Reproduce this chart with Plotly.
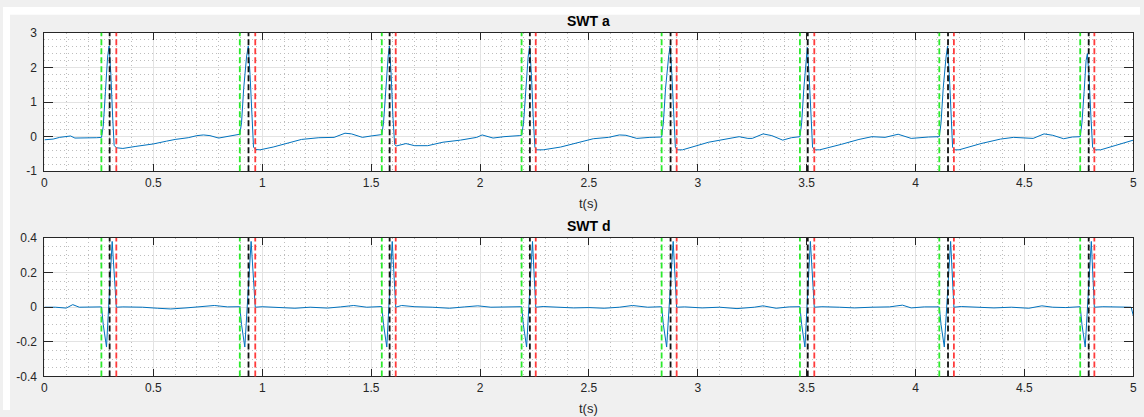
import plotly.graph_objects as go

# ---------------- data ----------------
t_a = [0.00, 0.04, 0.07, 0.10, 0.12, 0.14, 0.18, 0.21, 0.24, 0.262,
       0.270, 0.280, 0.290, 0.297, 0.305, 0.313, 0.320, 0.33, 0.36, 0.42,
       0.50, 0.56, 0.60, 0.66, 0.70, 0.73, 0.76, 0.80, 0.84, 0.875,
       0.897, 0.905, 0.915, 0.928, 0.936, 0.944, 0.952, 0.960, 0.97, 0.99,
       1.05, 1.10, 1.18, 1.26, 1.33, 1.38, 1.41, 1.44, 1.46, 1.50,
       1.549, 1.557, 1.567, 1.578, 1.584, 1.592, 1.600, 1.608, 1.615, 1.64,
       1.66, 1.70, 1.76, 1.83, 1.91, 1.985, 2.01, 2.06, 2.11, 2.18,
       2.191, 2.200, 2.210, 2.221, 2.228, 2.236, 2.244, 2.252, 2.26, 2.29,
       2.37, 2.44, 2.52, 2.59, 2.64, 2.67, 2.72, 2.78, 2.834, 2.842,
       2.852, 2.866, 2.873, 2.881, 2.889, 2.897, 2.905, 2.93, 3.05, 3.13,
       3.19, 3.23, 3.25, 3.30, 3.34, 3.39, 3.43, 3.469, 3.477, 3.487,
       3.497, 3.503, 3.511, 3.519, 3.527, 3.535, 3.56, 3.66, 3.74, 3.80,
       3.86, 3.92, 3.98, 4.06, 4.109, 4.117, 4.127, 4.140, 4.147, 4.155,
       4.163, 4.170, 4.178, 4.20, 4.30, 4.39, 4.45, 4.51, 4.54, 4.59,
       4.63, 4.68, 4.72, 4.756, 4.764, 4.774, 4.783, 4.789, 4.797, 4.805,
       4.813, 4.821, 4.85, 4.92, 5.00]
v_a = [-0.09, -0.07, -0.02, 0.00, 0.02, -0.04, -0.04, -0.05, -0.03, -0.02,
       0.30, 1.30, 2.30, 2.62, 1.80, 0.60, -0.25, -0.32, -0.34, -0.28,
       -0.21, -0.13, -0.08, -0.03, 0.03, 0.05, 0.03, -0.04, 0.00, 0.05,
       0.07, 0.40, 1.40, 2.30, 2.62, 1.80, 0.60, -0.30, -0.37, -0.38,
       -0.30, -0.22, -0.08, -0.03, -0.02, 0.10, 0.08, 0.02, -0.02, 0.02,
       0.06, 0.40, 1.40, 2.30, 2.62, 1.80, 0.60, -0.22, -0.27, -0.22,
       -0.20, -0.26, -0.26, -0.16, -0.10, -0.02, 0.05, -0.04, 0.00, 0.03,
       0.04, 0.40, 1.40, 2.30, 2.62, 1.80, 0.60, -0.30, -0.38, -0.38,
       -0.30, -0.18, -0.06, -0.02, 0.05, 0.04, -0.05, -0.02, -0.01, 0.40,
       1.40, 2.30, 2.62, 1.80, 0.60, -0.30, -0.38, -0.38, -0.16, -0.07,
       0.00, -0.05, -0.05, 0.08, 0.03, -0.10, -0.03, 0.00, 0.40, 1.40,
       2.30, 2.58, 1.80, 0.60, -0.30, -0.38, -0.38, -0.22, -0.08, 0.00,
       -0.02, 0.07, -0.05, -0.01, 0.00, 0.40, 1.40, 2.30, 2.62, 1.80,
       0.60, -0.30, -0.38, -0.38, -0.20, -0.07, -0.02, -0.03, -0.05, 0.08,
       0.04, -0.06, -0.01, 0.00, 0.40, 1.30, 2.20, 2.40, 1.70, 0.60,
       -0.30, -0.38, -0.38, -0.25, -0.10]

t_d = [0.00, 0.05, 0.10, 0.13, 0.16, 0.22, 0.262,
       0.270, 0.285, 0.311, 0.330,
       0.36, 0.45, 0.52, 0.58, 0.65, 0.72, 0.78, 0.84, 0.897,
       0.905, 0.920, 0.949, 0.968,
       1.00, 1.08, 1.15, 1.22, 1.30, 1.36, 1.42, 1.48, 1.549,
       1.557, 1.572, 1.597, 1.613,
       1.64, 1.70, 1.78, 1.86, 1.93, 1.99, 2.05, 2.12, 2.191,
       2.199, 2.214, 2.241, 2.256,
       2.29, 2.36, 2.43, 2.50, 2.57, 2.64, 2.70, 2.77, 2.834,
       2.842, 2.857, 2.887, 2.903,
       2.94, 3.02, 3.10, 3.18, 3.26, 3.30, 3.36, 3.42, 3.469,
       3.477, 3.492, 3.517, 3.535,
       3.57, 3.65, 3.72, 3.80, 3.88, 3.94, 3.98, 4.04, 4.109,
       4.117, 4.132, 4.161, 4.176,
       4.21, 4.28, 4.36, 4.44, 4.52, 4.58, 4.63, 4.69, 4.756,
       4.764, 4.779, 4.807, 4.821,
       4.86, 4.92, 4.99, 5.00]
v_d = [0.00, 0.00, -0.005, 0.015, 0.00, 0.003, 0.002,
       -0.10, -0.23, 0.38, 0.00,
       0.002, 0.000, -0.006, -0.010, -0.004, 0.003, 0.010, 0.002, 0.003,
       -0.10, -0.23, 0.38, 0.00,
       0.003, -0.003, -0.006, 0.000, -0.005, 0.002, 0.010, 0.000, 0.004,
       -0.10, -0.23, 0.38, 0.00,
       0.010, 0.003, 0.000, -0.006, 0.002, 0.008, 0.000, 0.002, 0.003,
       -0.10, -0.23, 0.38, 0.00,
       0.004, 0.000, -0.004, -0.002, -0.006, 0.000, 0.010, 0.000, 0.003,
       -0.10, -0.23, 0.38, 0.00,
       0.002, -0.004, 0.000, -0.008, 0.000, 0.008, -0.006, 0.002, 0.003,
       -0.10, -0.23, 0.38, 0.00,
       0.003, 0.000, -0.004, 0.000, 0.002, 0.012, -0.004, 0.002, 0.002,
       -0.10, -0.23, 0.38, 0.00,
       0.004, 0.000, -0.004, 0.000, -0.006, 0.008, 0.000, -0.002, 0.003,
       -0.10, -0.23, 0.38, 0.00,
       0.003, 0.000, 0.000, -0.05]

onsets = [0.2615, 0.897, 1.549, 2.191, 2.834, 3.469, 4.109, 4.756]
peaks = [0.2994, 0.937, 1.585, 2.229, 2.875, 3.505, 4.149, 4.795]
offsets = [0.330, 0.968, 1.613, 2.256, 2.903, 3.535, 4.176, 4.821]

x_ticks = [0, 0.5, 1, 1.5, 2, 2.5, 3, 3.5, 4, 4.5, 5]
x_ticktext = ["0", "0.5", "1", "1.5", "2", "2.5", "3", "3.5", "4", "4.5", "5"]
ya_ticks = [-1, 0, 1, 2, 3]
ya_ticktext = ["-1", "0", "1", "2", "3"]
yd_ticks = [-0.4, -0.2, 0, 0.2, 0.4]
yd_ticktext = ["-0.4", "-0.2", "0", "0.2", "0.4"]

titles = ["SWT a", "SWT d"]
xlabel = "t(s)"

# ---------------- figure ----------------
W, H = 1144, 417
FONT = "Liberation Sans, Arial, sans-serif"
TXT = "#262626"
SIG = "#0072BD"

fig = go.Figure()
fig.add_trace(go.Scatter(x=t_a, y=v_a, mode="lines", line=dict(color=SIG, width=1),
                         xaxis="x", yaxis="y", showlegend=False, hoverinfo="skip"))
fig.add_trace(go.Scatter(x=t_d, y=v_d, mode="lines", line=dict(color=SIG, width=1),
                         xaxis="x2", yaxis="y2", showlegend=False, hoverinfo="skip"))

shapes = []
# white strips at the top and left edge of the gray figure (as in the reference)
shapes.append(dict(type="rect", xref="paper", yref="paper", x0=0, x1=1, y0=(H - 8) / H, y1=1,
                   fillcolor="white", line=dict(width=0), layer="below"))
shapes.append(dict(type="rect", xref="paper", yref="paper", x0=0, x1=7 / W, y0=0, y1=1,
                   fillcolor="white", line=dict(width=0), layer="below"))
for xr, yr in (("x", "y domain"), ("x2", "y2 domain")):
    for times, col in ((onsets, "#2bea2b"), (peaks, "#111111"), (offsets, "#ff3b3b")):
        for t in times:
            shapes.append(dict(type="line", xref=xr, yref=yr, x0=t, x1=t, y0=0, y1=1,
                               line=dict(color=col, width=1.8, dash="6px,3px"), layer="above"))

xd = [41.7 / W, 1137.3 / W]
ya_dom = [(H - 170) / H, (H - 26.7) / H]
yd_dom = [(H - 382.3) / H, (H - 239) / H]

MINOR_DASH = "1px,3px"
MINOR_COL = "#bdbdbd"

def xaxis(anchor):
    return dict(domain=xd, anchor=anchor, range=[0, 5], tickmode="array",
                tickvals=x_ticks, ticktext=x_ticktext, ticks="inside", ticklen=7,
                tickcolor=TXT, showline=True, linecolor=TXT, linewidth=1, mirror="allticks",
                showgrid=True, gridcolor="#e3e3e3", gridwidth=1, zeroline=False,
                minor=dict(dtick=0.1, showgrid=True, gridcolor=MINOR_COL, griddash=MINOR_DASH,
                           gridwidth=1, ticks=""),
                tickfont=dict(family=FONT, size=12, color=TXT), fixedrange=True)

def yaxis(anchor, dom, rng, tv, tt, mdt):
    return dict(domain=dom, anchor=anchor, range=rng, tickmode="array", tickvals=tv,
                ticktext=tt, ticks="inside", ticklen=9, tickcolor=TXT, showline=True,
                linecolor=TXT, linewidth=1, mirror="allticks", showgrid=True,
                gridcolor="#e3e3e3", gridwidth=1, zeroline=False,
                minor=dict(dtick=mdt, tick0=rng[0], showgrid=True, gridcolor=MINOR_COL,
                           griddash=MINOR_DASH, gridwidth=1, ticks=""),
                tickfont=dict(family=FONT, size=12, color=TXT), ticklabelstandoff=4,
                fixedrange=True)

annotations = [
    dict(text="<b>%s</b>" % titles[0], x=0.5 * (xd[0] + xd[1]), y=H - 15, xref="paper", yref="paper",
         showarrow=False, font=dict(family=FONT, size=14, color="#000000")),
    dict(text="<b>%s</b>" % titles[1], x=0.5 * (xd[0] + xd[1]), y=H - 226.7, xref="paper", yref="paper",
         showarrow=False, font=dict(family=FONT, size=14, color="#000000")),
    dict(text=xlabel, x=0.5 * (xd[0] + xd[1]), y=H - 203, xref="paper", yref="paper",
         showarrow=False, font=dict(family=FONT, size=13, color=TXT)),
    dict(text=xlabel, x=0.5 * (xd[0] + xd[1]), y=H - 415, xref="paper", yref="paper",
         showarrow=False, font=dict(family=FONT, size=13, color=TXT)),
]
for a in annotations:
    a["y"] = a["y"] / H
    a["yanchor"] = "middle"
    a["xanchor"] = "center"

fig.update_layout(
    width=W, height=H, autosize=False,
    margin=dict(l=0, r=0, t=0, b=0, pad=0),
    paper_bgcolor="#f0f0f0", plot_bgcolor="white",
    xaxis=xaxis("y"), yaxis=yaxis("x", ya_dom, [-1, 3], ya_ticks, ya_ticktext, 0.2),
    xaxis2=xaxis("y2"), yaxis2=yaxis("x2", yd_dom, [-0.4, 0.4], yd_ticks, yd_ticktext, 0.05),
    shapes=shapes, annotations=annotations, showlegend=False, hovermode=False,
)

fig.write_html("out.html", config={"displayModeBar": False})
